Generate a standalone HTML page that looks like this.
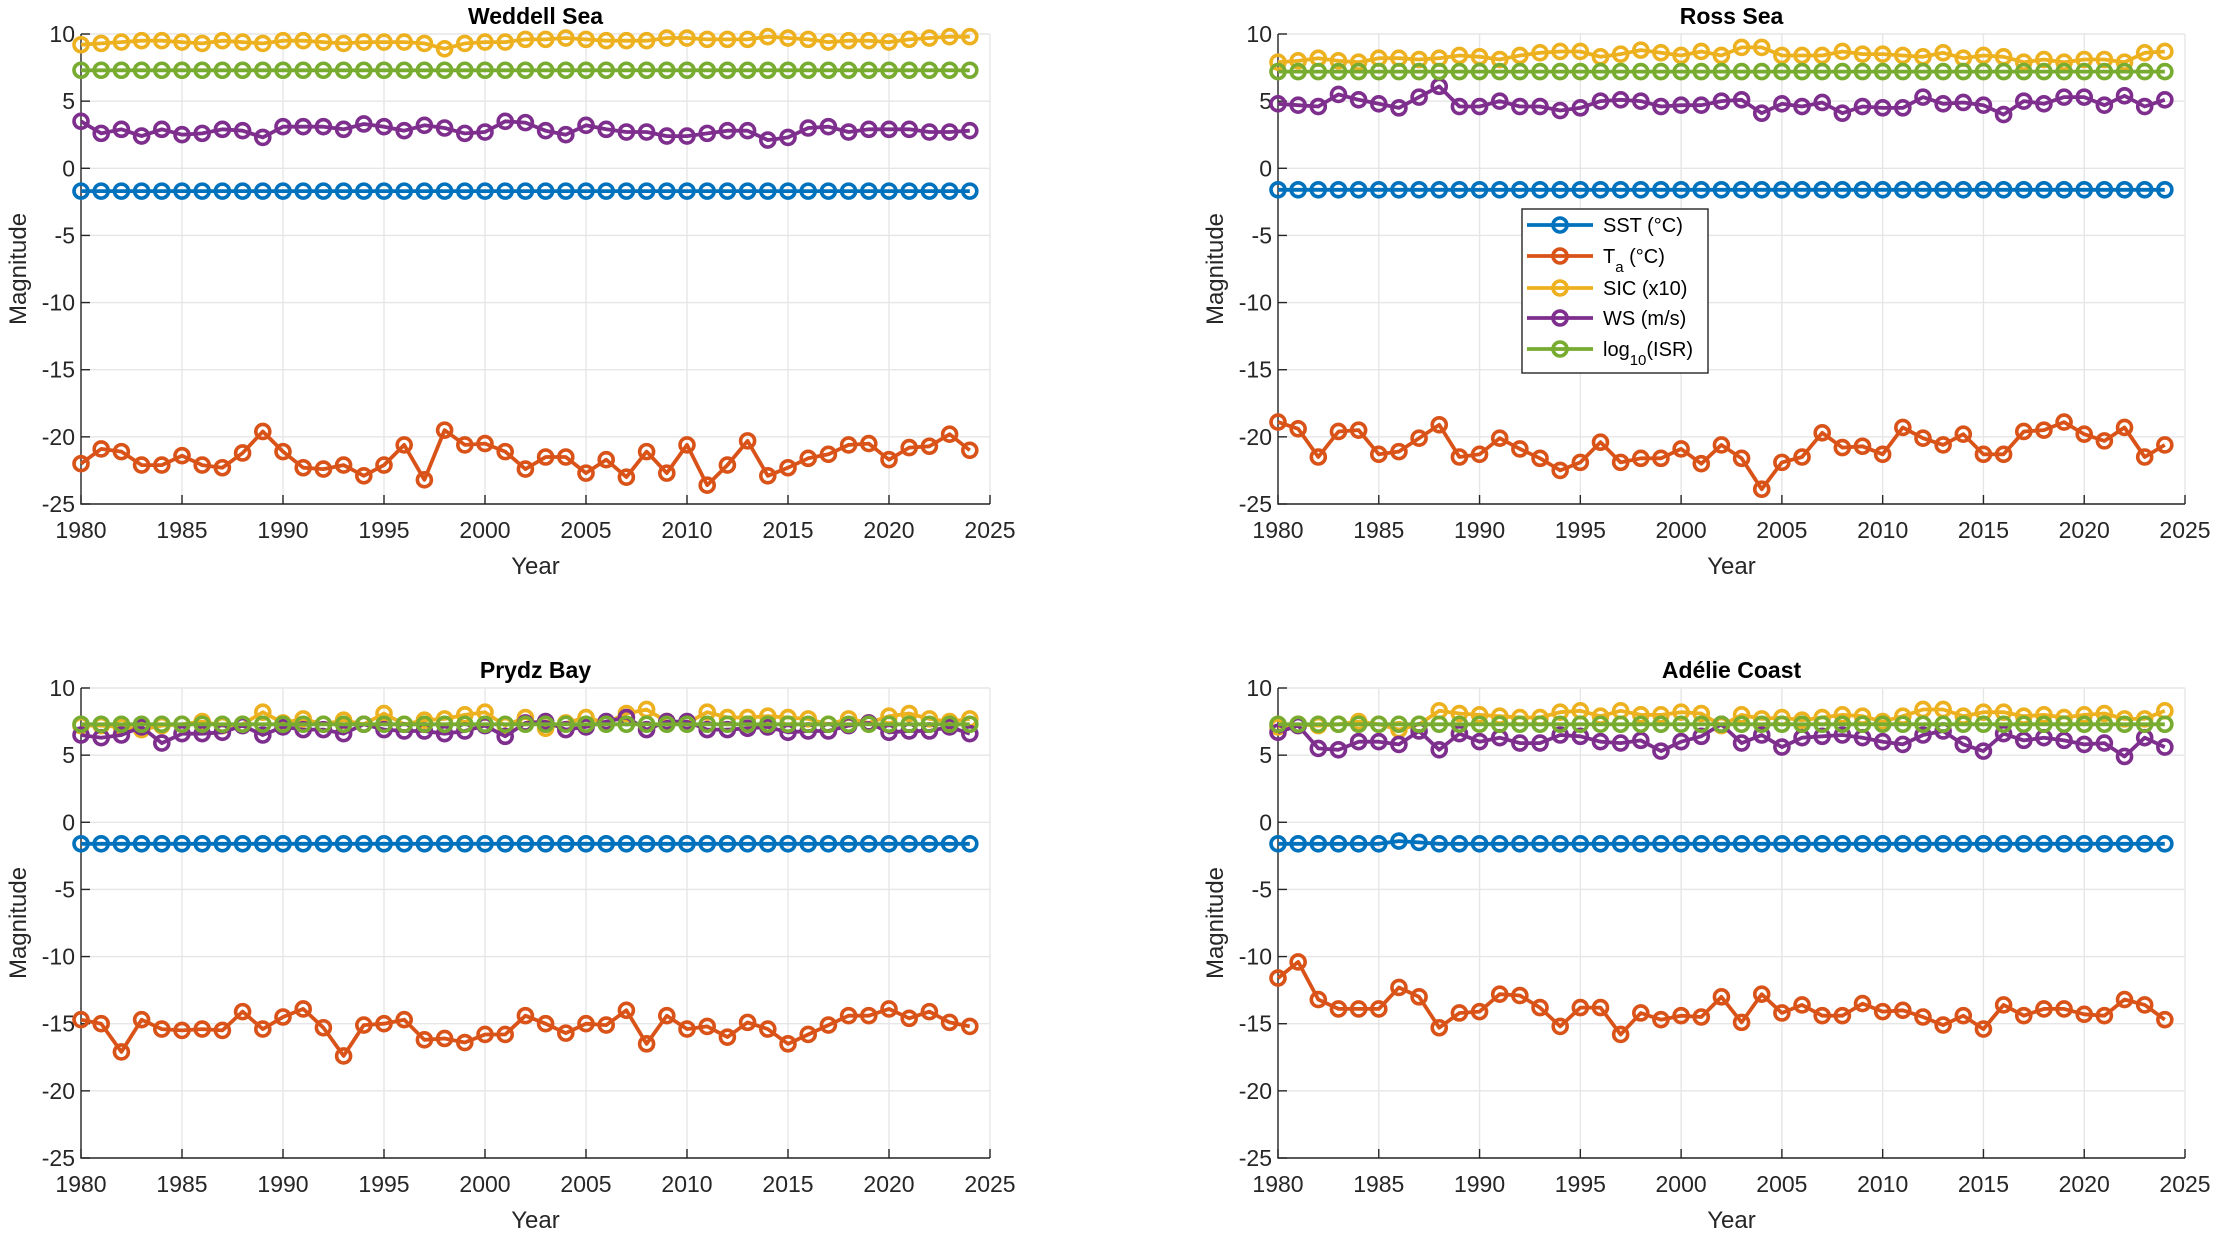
<!DOCTYPE html>
<html><head><meta charset="utf-8">
<style>
html,body{margin:0;padding:0;background:#fff;}
svg{display:block;font-family:"Liberation Sans",Arial,sans-serif;}
</style></head>
<body>
<svg id="fig" width="2216" height="1233" viewBox="0 0 2216 1233" xmlns="http://www.w3.org/2000/svg"></svg>
<script>
const years = [];
for (let y = 1980; y <= 2024; y++) years.push(y);
const xTicks = [1980,1985,1990,1995,2000,2005,2010,2015,2020,2025];
const yTicks = [10,5,0,-5,-10,-15,-20,-25];

const wedSST = Array(45).fill(-1.7);
const wedISR = Array(45).fill(7.3);
const wedSIC = [9.2,9.3,9.4,9.5,9.5,9.4,9.3,9.5,9.4,9.3,9.5,9.5,9.4,9.3,9.4,9.4,9.4,9.3,8.9,9.3,9.4,9.4,9.6,9.6,9.7,9.6,9.5,9.5,9.5,9.7,9.7,9.6,9.6,9.6,9.8,9.7,9.6,9.4,9.5,9.5,9.4,9.6,9.7,9.8,9.8];
const wedWS = [3.5,2.6,2.9,2.4,2.9,2.5,2.6,2.9,2.8,2.3,3.1,3.1,3.1,2.9,3.3,3.1,2.8,3.2,3.0,2.6,2.7,3.5,3.4,2.8,2.5,3.2,2.9,2.7,2.7,2.4,2.4,2.6,2.8,2.8,2.1,2.3,3.0,3.1,2.7,2.9,2.9,2.9,2.7,2.7,2.8];
const wedTa = [-22.0,-20.9,-21.1,-22.1,-22.1,-21.4,-22.1,-22.3,-21.2,-19.6,-21.1,-22.3,-22.4,-22.1,-22.9,-22.1,-20.6,-23.2,-19.5,-20.6,-20.5,-21.1,-22.4,-21.5,-21.5,-22.7,-21.7,-23.0,-21.1,-22.7,-20.6,-23.6,-22.1,-20.3,-22.9,-22.3,-21.6,-21.3,-20.6,-20.5,-21.7,-20.8,-20.7,-19.8,-21.0];

const rosSST = Array(45).fill(-1.6);
const rosISR = Array(45).fill(7.2);
const rosSIC = [7.9,8.0,8.2,8.0,7.9,8.2,8.2,8.1,8.2,8.4,8.3,8.1,8.4,8.6,8.7,8.7,8.3,8.5,8.8,8.6,8.4,8.7,8.4,9.0,9.0,8.4,8.4,8.4,8.7,8.5,8.5,8.4,8.3,8.6,8.2,8.4,8.3,7.9,8.1,7.9,8.1,8.1,7.9,8.6,8.7];
const rosWS = [4.8,4.7,4.6,5.5,5.1,4.8,4.5,5.3,6.1,4.6,4.6,5.0,4.6,4.6,4.3,4.5,5.0,5.1,5.0,4.6,4.7,4.7,5.0,5.1,4.1,4.8,4.6,4.9,4.1,4.6,4.5,4.5,5.3,4.8,4.9,4.7,4.0,5.0,4.8,5.3,5.3,4.7,5.4,4.6,5.1];
const rosTa = [-18.9,-19.4,-21.5,-19.6,-19.5,-21.3,-21.1,-20.1,-19.1,-21.5,-21.3,-20.1,-20.9,-21.6,-22.5,-21.9,-20.4,-21.9,-21.6,-21.6,-20.9,-22.0,-20.6,-21.6,-23.9,-21.9,-21.5,-19.7,-20.8,-20.7,-21.3,-19.3,-20.1,-20.6,-19.8,-21.3,-21.3,-19.6,-19.5,-18.9,-19.8,-20.3,-19.3,-21.5,-20.6];

const pryCST = Array(45).fill(-1.6);
const pryISR = Array(45).fill(7.3);
const prySIC = [7.2,7.2,7.1,6.9,7.2,7.3,7.5,7.2,7.3,8.2,7.4,7.7,7.3,7.6,7.3,8.1,7.3,7.6,7.7,8.0,8.2,7.2,7.8,7.0,7.4,7.8,7.4,8.1,8.4,7.5,7.4,8.2,7.8,7.8,7.9,7.8,7.7,7.3,7.7,7.4,7.9,8.1,7.7,7.5,7.7];
const pryWS = [6.5,6.3,6.5,7.1,5.9,6.6,6.6,6.7,7.2,6.5,7.1,6.9,6.9,6.6,7.3,6.9,6.8,6.8,6.6,6.8,7.2,6.4,7.4,7.5,6.9,7.1,7.5,7.8,6.9,7.5,7.5,6.9,6.9,7.0,7.1,6.7,6.8,6.8,7.2,7.4,6.7,6.8,6.8,7.1,6.6];
const pryTa = [-14.7,-15.0,-17.1,-14.7,-15.4,-15.5,-15.4,-15.5,-14.1,-15.4,-14.5,-13.9,-15.3,-17.4,-15.1,-15.0,-14.7,-16.2,-16.1,-16.4,-15.8,-15.8,-14.4,-15.0,-15.7,-15.0,-15.1,-14.0,-16.5,-14.4,-15.4,-15.2,-16.0,-14.9,-15.4,-16.5,-15.8,-15.1,-14.4,-14.4,-13.9,-14.6,-14.1,-14.9,-15.2];

const adeSST = [-1.6,-1.6,-1.6,-1.6,-1.6,-1.6,-1.4,-1.5,-1.6,-1.6,-1.6,-1.6,-1.6,-1.6,-1.6,-1.6,-1.6,-1.6,-1.6,-1.6,-1.6,-1.6,-1.6,-1.6,-1.6,-1.6,-1.6,-1.6,-1.6,-1.6,-1.6,-1.6,-1.6,-1.6,-1.6,-1.6,-1.6,-1.6,-1.6,-1.6,-1.6,-1.6,-1.6,-1.6,-1.6];
const adeISR = Array(45).fill(7.3);
const adeSIC = [7.1,7.3,7.2,7.3,7.5,7.3,6.9,7.3,8.3,8.1,8.0,7.9,7.8,7.8,8.2,8.3,7.9,8.3,8.0,8.0,8.2,8.1,7.2,8.0,7.7,7.8,7.6,7.8,8.0,7.9,7.5,7.9,8.4,8.4,7.9,8.2,8.2,7.9,8.0,7.8,8.0,8.1,7.7,7.7,8.3];
const adeWS = [6.7,7.2,5.5,5.4,6.0,6.0,5.8,6.8,5.4,6.6,6.0,6.3,5.9,5.9,6.5,6.4,6.0,5.9,6.1,5.3,6.0,6.4,7.3,5.9,6.5,5.6,6.3,6.4,6.5,6.3,6.0,5.8,6.5,6.8,5.8,5.3,6.6,6.1,6.3,6.1,5.8,5.9,4.9,6.3,5.6];
const adeTa = [-11.6,-10.4,-13.2,-13.9,-13.9,-13.9,-12.3,-13.0,-15.3,-14.2,-14.1,-12.8,-12.9,-13.8,-15.2,-13.8,-13.8,-15.8,-14.2,-14.7,-14.4,-14.5,-13.0,-14.9,-12.8,-14.2,-13.6,-14.4,-14.4,-13.5,-14.1,-14.0,-14.5,-15.1,-14.4,-15.4,-13.6,-14.4,-13.9,-13.9,-14.3,-14.4,-13.2,-13.6,-14.7];

const seriesNames = ["SST (°C)","Ta (°C)","SIC (x10)","WS (m/s)","log10(ISR)"];
const colors = ["#0072BD","#D95319","#EDB120","#7E2F8E","#77AC30"];

const NS = "http://www.w3.org/2000/svg";
const svg = document.getElementById("fig");
function mk(tag, attrs, parent) {
  const e = document.createElementNS(NS, tag);
  for (const k in attrs) e.setAttribute(k, attrs[k]);
  (parent || svg).appendChild(e);
  return e;
}

const panels = [
  {title:"Weddell Sea", slug:"weddell", x0:81, x1:990, y0:34, y1:504, data:[wedSST,wedTa,wedSIC,wedWS,wedISR]},
  {title:"Ross Sea", slug:"ross", x0:1278, x1:2185, y0:34, y1:504, data:[rosSST,rosTa,rosSIC,rosWS,rosISR]},
  {title:"Prydz Bay", slug:"prydz", x0:81, x1:990, y0:688, y1:1158, data:[pryCST,pryTa,prySIC,pryWS,pryISR]},
  {title:"Adélie Coast", slug:"adelie", x0:1278, x1:2185, y0:688, y1:1158, data:[adeSST,adeTa,adeSIC,adeWS,adeISR]}
];

panels.forEach(p => {
  const g = mk("g", {});
  
  
  const xs = v => p.x0 + (v - 1980) / 45 * (p.x1 - p.x0);
  const ys = v => p.y0 + (10 - v) / 35 * (p.y1 - p.y0);
  xTicks.forEach(t => {
    const l = mk("line", {x1:xs(t), x2:xs(t), y1:p.y0, y2:p.y1, stroke:"#e6e6e6", "stroke-width":1.4}, g);
    
    
  });
  yTicks.forEach(t => {
    const l = mk("line", {x1:p.x0, x2:p.x1, y1:ys(t), y2:ys(t), stroke:"#e6e6e6", "stroke-width":1.4}, g);
    
    
  });
  const ax = mk("path", {d:`M${p.x0},${p.y0}V${p.y1}H${p.x1}`, fill:"none", stroke:"#262626", "stroke-width":1.4}, g);
  
  
  xTicks.forEach(t => {
    mk("line", {x1:xs(t), x2:xs(t), y1:p.y1, y2:p.y1-9, stroke:"#262626", "stroke-width":1.4}, g);
    const tx = mk("text", {x:xs(t), y:p.y1+34, "text-anchor":"middle", "font-size":23, fill:"#262626"}, g);
    tx.textContent = t;
    
    
  });
  yTicks.forEach(t => {
    mk("line", {x1:p.x0, x2:p.x0+9, y1:ys(t), y2:ys(t), stroke:"#262626", "stroke-width":1.4}, g);
    const tx = mk("text", {x:p.x0-6, y:ys(t)+8, "text-anchor":"end", "font-size":23, fill:"#262626"}, g);
    tx.textContent = t;
    
    
  });
  const ttl = mk("text", {x:(p.x0+p.x1)/2, y:p.y0-10, "text-anchor":"middle", "font-size":23, "font-weight":"bold", fill:"#000"}, g);
  ttl.textContent = p.title;
  
  
  const xl = mk("text", {x:(p.x0+p.x1)/2, y:p.y1+70, "text-anchor":"middle", "font-size":24, fill:"#262626"}, g);
  xl.textContent = "Year";
  
  
  const yx = p.x0 - 55, yy = (p.y0+p.y1)/2;
  const yl = mk("text", {x:yx, y:yy, "text-anchor":"middle", "font-size":24, fill:"#262626", transform:`rotate(-90 ${yx} ${yy})`}, g);
  yl.textContent = "Magnitude";
  
  
  p.data.forEach((arr, si) => {
    const sg = mk("g", {}, g);
    
    
    const d = arr.map((v,i) => (i?"L":"M") + xs(years[i]).toFixed(1) + "," + ys(v).toFixed(1)).join("");
    mk("path", {d:d, fill:"none", stroke:colors[si], "stroke-width":3.8, "stroke-linejoin":"round"}, sg);
    arr.forEach((v,i) => {
      const c = mk("circle", {cx:xs(years[i]), cy:ys(v), r:7, fill:"none", stroke:colors[si], "stroke-width":3.6}, sg);
      
      
    });
  });
});

const lg = mk("g", {});


mk("rect", {x:1522, y:209, width:186, height:164, fill:"#fff", stroke:"#262626", "stroke-width":1.4}, lg);
const ly = [225, 256, 288, 318, 349];
seriesNames.forEach((n, i) => {
  const e = mk("g", {}, lg);
  
  
  mk("line", {x1:1527, x2:1593, y1:ly[i], y2:ly[i], stroke:colors[i], "stroke-width":3.8}, e);
  mk("circle", {cx:1560, cy:ly[i], r:7, fill:"none", stroke:colors[i], "stroke-width":3.6}, e);
  const t = mk("text", {x:1603, y:ly[i]+7, "font-size":20, fill:"#000"}, e);
  if (i === 1) {
    t.innerHTML = 'T<tspan baseline-shift="sub" font-size="15">a</tspan> (°C)';
  } else if (i === 4) {
    t.innerHTML = 'log<tspan baseline-shift="sub" font-size="15">10</tspan>(ISR)';
  } else {
    t.textContent = n;
  }
});
</script>
</body></html>
